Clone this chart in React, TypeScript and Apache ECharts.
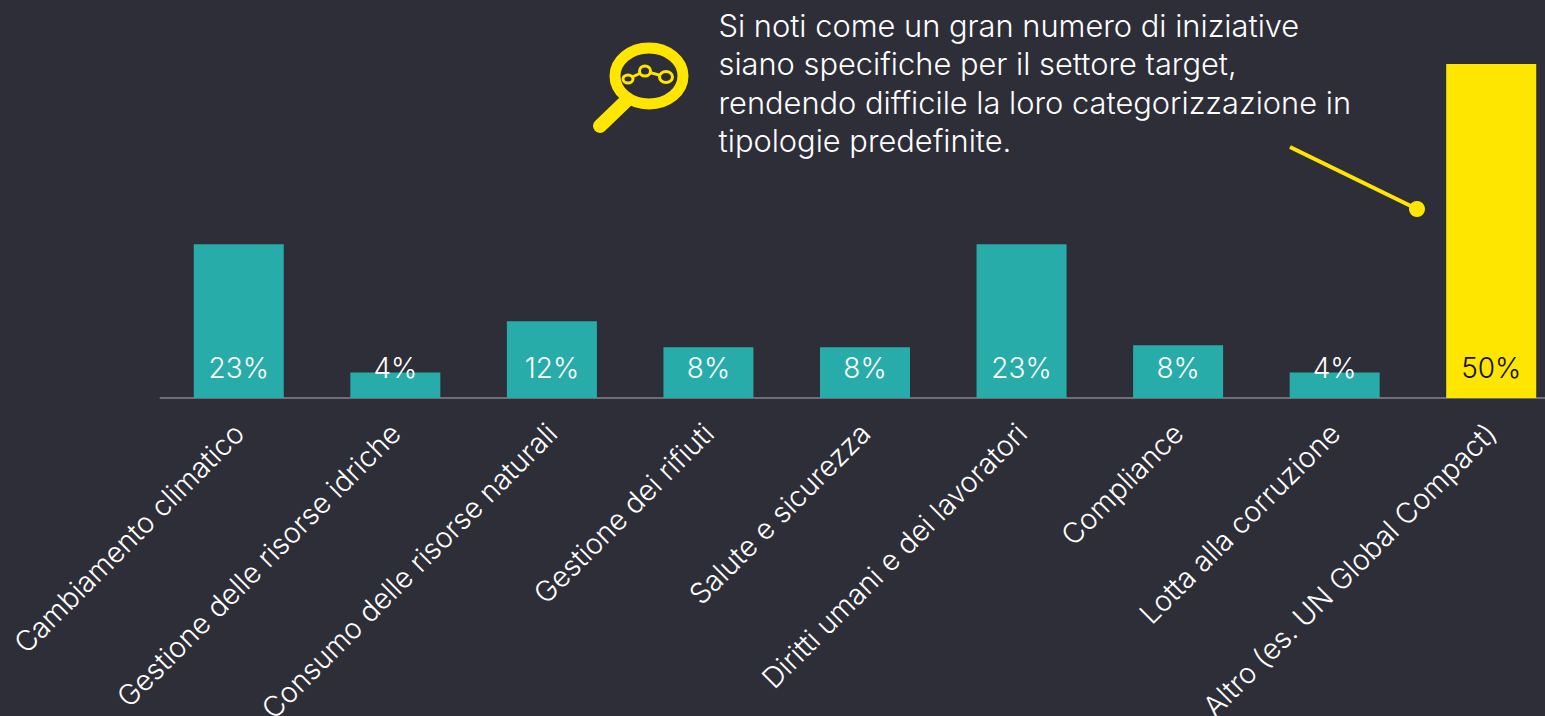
import React, { useEffect, useRef } from "react";
import * as echarts from "echarts";

const categories = [
  "Cambiamento climatico",
  "Gestione delle risorse idriche",
  "Consumo delle risorse naturali",
  "Gestione dei rifiuti",
  "Salute e sicurezza",
  "Diritti umani e dei lavoratori",
  "Compliance",
  "Lotta alla corruzione",
  "Altro (es. UN Global Compact)",
];
const values = [23, 3.8, 11.5, 7.6, 7.6, 23, 7.9, 3.8, 50];
const valueLabels = ["23%", "4%", "12%", "8%", "8%", "23%", "8%", "4%", "50%"];
const noteLines = [
  "Si noti come un gran numero di iniziative",
  "siano specifiche per il settore target,",
  "rendendo difficile la loro categorizzazione in",
  "tipologie predefinite.",
];

const BG = "#2e2e38";
const TEAL = "#27acaa";
const YELLOW = "#ffe600";
const FONT = "Inter, sans-serif";

export default function App() {
  const ref = useRef<HTMLDivElement>(null);
  useEffect(() => {
    document.body.style.margin = "0";
    document.body.style.overflow = "hidden";
    const chart = echarts.init(ref.current!, undefined, { renderer: "svg" });
    chart.setOption({
      animation: false,
      backgroundColor: BG,
      grid: { left: 160.5, width: 1409, top: 64, height: 334, outerBoundsMode: "none" },
      xAxis: {
        type: "category",
        data: categories,
        axisTick: { show: false },
        axisLine: { show: true, lineStyle: { color: "#6e6e78", width: 2 } },
        axisLabel: {
          interval: 0,
          rotate: 45,
          color: "#fff",
          fontFamily: FONT,
          fontWeight: 300,
          fontSize: 28.6,
          margin: 30,
        },
      },
      yAxis: { type: "value", min: 0, max: 50, show: false },
      series: [
        {
          type: "bar",
          barWidth: 90,
          data: values.map((v, i) => ({
            value: v,
            itemStyle: { color: i === values.length - 1 ? YELLOW : TEAL },
            label: { color: i === values.length - 1 ? "#111" : "#fff" },
          })),
          label: {
            show: true,
            position: "insideBottom",
            distance: 16,
            fontFamily: FONT,
            fontWeight: 300,
            fontSize: 28,
            formatter: (p: any) => valueLabels[p.dataIndex],
          },
        },
      ],
      graphic: [
        ...noteLines.map((t, i) => ({
          type: "text",
          x: 718.5,
          y: 25.5 + i * 38.4,
          style: {
            text: t,
            fill: "#fff",
            font: `300 30.8px ${FONT}`,
            verticalAlign: "middle",
          },
        })),
        { type: "line", shape: { x1: 1290, y1: 147, x2: 1417, y2: 209 }, style: { stroke: YELLOW, lineWidth: 4 } },
        { type: "circle", shape: { cx: 1417, cy: 209, r: 8 }, style: { fill: YELLOW } },
        { type: "line", shape: { x1: 600, y1: 126, x2: 627, y2: 100 }, style: { stroke: YELLOW, lineWidth: 14, lineCap: "round" } },
        { type: "ellipse", shape: { cx: 649, cy: 76, rx: 34, ry: 28 }, style: { fill: "none", stroke: YELLOW, lineWidth: 11 } },
        { type: "polyline", shape: { points: [[628, 79], [645, 71], [666, 77]] }, style: { fill: "none", stroke: YELLOW, lineWidth: 3 } },
        { type: "ellipse", shape: { cx: 628, cy: 79, rx: 5, ry: 4 }, style: { fill: BG, stroke: YELLOW, lineWidth: 3 } },
        { type: "ellipse", shape: { cx: 645, cy: 71, rx: 5.5, ry: 5 }, style: { fill: BG, stroke: YELLOW, lineWidth: 3 } },
        { type: "ellipse", shape: { cx: 666, cy: 77, rx: 6.5, ry: 5.5 }, style: { fill: BG, stroke: YELLOW, lineWidth: 3 } },
      ],
    });
    return () => chart.dispose();
  }, []);
  return <div ref={ref} style={{ width: 1545, height: 716 }} />;
}
